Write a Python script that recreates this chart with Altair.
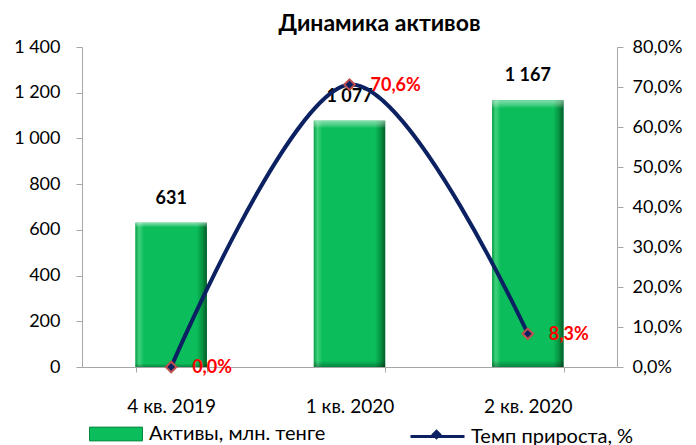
import altair as alt
import pandas as pd

categories = ["4 кв. 2019", "1 кв. 2020", "2 кв. 2020"]
assets = [631, 1077, 1167]
growth = [0.0, 70.6, 8.3]
asset_labels = ["631", "1 077", "1 167"]
growth_labels = ["0,0%", "70,6%", "8,3%"]
series_bar = "Активы, млн. тенге"
series_line = "Темп прироста, %"

FONT = "Lato"
NAVY = "#0B2161"
GREEN = "#0BBD5B"
MARKER_EDGE = "#C0504D"
AXIS_GRAY = "#A6A6A6"

df = pd.DataFrame({
    "cat": categories,
    "assets": assets,
    "growth": growth,
    "alabel": asset_labels,
    "glabel": growth_labels,
    "s1": series_bar,
    "s2": series_line,
    "s3": series_line,
})

x_enc = alt.X(
    "cat:N", sort=categories,
    scale=alt.Scale(paddingInner=0.6, paddingOuter=0.3),
    axis=alt.Axis(title=None, labelAngle=0, tickBand="extent",
                  domainColor=AXIS_GRAY, tickColor=AXIS_GRAY, tickSize=5,
                  labelFont=FONT, labelFontSize=19, labelColor="black",
                  labelPadding=25),
)

y_left = alt.Y(
    "assets:Q",
    scale=alt.Scale(domain=[0, 1400], nice=False),
    axis=alt.Axis(title=None, orient="left", values=list(range(0, 1401, 200)),
                  grid=False, domainColor=AXIS_GRAY, tickColor=AXIS_GRAY,
                  tickSize=6, labelFont=FONT, labelFontSize=18,
                  labelColor="black", labelPadding=16,
                  labelExpr="replace(format(datum.value, ','), ',', ' ')"),
)

y_right = alt.Y(
    "growth:Q",
    scale=alt.Scale(domain=[0, 80], nice=False),
    axis=alt.Axis(title=None, orient="right", values=list(range(0, 81, 10)),
                  grid=False, domainColor=AXIS_GRAY, tickColor=AXIS_GRAY,
                  tickSize=6, labelFont=FONT, labelFontSize=18,
                  labelColor="black", labelPadding=9,
                  labelExpr="replace(format(datum.value, '.1f'), '.', ',') + '%'"),
)

base = alt.Chart(df)

bar_legend = base.mark_bar().encode(
    x=x_enc, y=y_left,
    fill=alt.Fill("s1:N", scale=alt.Scale(range=[GREEN]),
                  legend=alt.Legend(title=None, orient="none", legendX=7, legendY=360,
                                    symbolType="M-1,-0.26H1V0.26H-1Z", symbolSize=2809,
                                    symbolStrokeColor="#078A40", symbolStrokeWidth=1,
                                    labelFont=FONT, labelFontSize=20, labelColor="black",
                                    labelOffset=6, labelLimit=400)),
)

gradient_h = alt.Gradient(
    gradient="linear", x1=0, x2=1, y1=0, y2=0,
    stops=[
        alt.GradientStop(offset=0.0, color="#0A9E48"),
        alt.GradientStop(offset=0.05, color="#3FD27C"),
        alt.GradientStop(offset=0.12, color=GREEN),
        alt.GradientStop(offset=0.86, color=GREEN),
        alt.GradientStop(offset=0.94, color="#07903F"),
        alt.GradientStop(offset=1.0, color="#045A28"),
    ],
)

gradient_v = alt.Gradient(
    gradient="linear", x1=0, x2=0, y1=0, y2=1,
    stops=[
        alt.GradientStop(offset=0.0, color="rgba(255,255,255,0.5)"),
        alt.GradientStop(offset=0.02, color="rgba(255,255,255,0.2)"),
        alt.GradientStop(offset=0.03, color="rgba(255,255,255,0)"),
        alt.GradientStop(offset=0.975, color="rgba(0,0,0,0)"),
        alt.GradientStop(offset=1.0, color="rgba(0,0,0,0.3)"),
    ],
)

bar_grad = base.mark_bar(color=gradient_h).encode(x=x_enc, y=y_left)
bar_bevel = base.mark_bar(color=gradient_v).encode(x=x_enc, y=y_left)

bar_text = base.mark_text(
    font=FONT, fontSize=18, fontWeight="bold", color="black", baseline="middle", dy=-24
).encode(x=x_enc, y=y_left, text="alabel:N")

left = alt.layer(bar_legend, bar_grad, bar_bevel, bar_text)

line = base.mark_line(interpolate="cardinal", strokeWidth=4).encode(
    x=x_enc, y=y_right,
    stroke=alt.Stroke("s2:N", scale=alt.Scale(range=[NAVY]),
                      legend=alt.Legend(title=None, orient="none", legendX=327, legendY=361,
                                        symbolType="M-1,0H1",
                                        symbolSize=2916, symbolStrokeWidth=3,
                                        labelFont=FONT, labelFontSize=20, labelColor="black",
                                        labelOffset=5, labelLimit=400)),
)

points = base.mark_point(filled=True, fill=NAVY, stroke=MARKER_EDGE,
                         strokeWidth=2, size=110, opacity=1).encode(
    x=x_enc, y=y_right,
    shape=alt.Shape("s3:N", scale=alt.Scale(range=["diamond"]),
                    legend=alt.Legend(title=None, orient="none", legendX=348, legendY=381,
                                      symbolSize=110, symbolFillColor=NAVY,
                                      symbolStrokeColor=MARKER_EDGE, symbolStrokeWidth=2,
                                      symbolOpacity=1,
                                      labelExpr="''", labelFontSize=1, labelOffset=0)),
)

growth_text = base.mark_text(
    font=FONT, fontSize=18, fontWeight="bold", color="#FF0000", align="left",
    baseline="middle", dx=21, dy=1
).encode(x=x_enc, y=y_right, text="glabel:N")

right = alt.layer(line, points, growth_text)

chart = alt.layer(left, right).resolve_scale(y="independent").properties(
    width=535, height=320,
    title=alt.TitleParams("Динамика активов", font=FONT, fontSize=23, fontWeight="bold",
                          color="black", anchor="middle", dx=30, offset=2),
    autosize=alt.AutoSizeParams(type="none"),
    padding={"left": 74, "top": 39, "right": 70, "bottom": 78},
).configure_view(stroke=None)

chart.save("out.html", embed_options={"renderer": "svg", "actions": False})
